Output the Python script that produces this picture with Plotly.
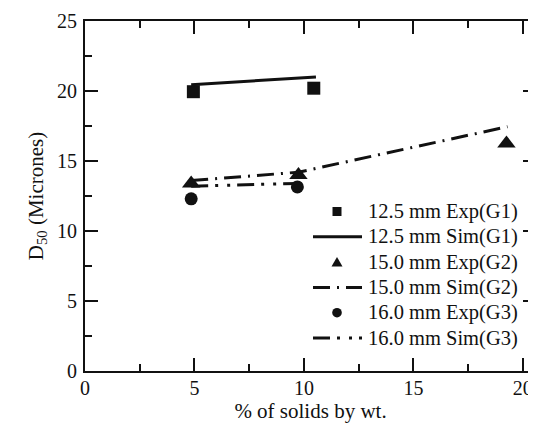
import plotly.graph_objects as go

# Data
g1_exp_x = [4.95, 10.45]
g1_exp_y = [19.95, 20.2]
g1_sim_x = [4.85, 10.55]
g1_sim_y = [20.45, 21.0]

g2_exp_x = [4.85, 9.75, 19.25]
g2_exp_y = [13.4, 14.0, 16.25]
g2_sim_x = [4.85, 9.75, 19.3]
g2_sim_y = [13.6, 14.2, 17.45]

g3_exp_x = [4.85, 9.7]
g3_exp_y = [12.3, 13.15]
g3_sim_x = [4.85, 9.75]
g3_sim_y = [13.2, 13.4]

names = ["12.5 mm Exp(G1)", "12.5 mm Sim(G1)", "15.0 mm Exp(G2)",
         "15.0 mm Sim(G2)", "16.0 mm Exp(G3)", "16.0 mm Sim(G3)"]

FONT = "Liberation Serif, Times New Roman, serif"
BLACK = "#111111"
DASH_G2 = "17px,7px,2px,7px"
DASH_G3 = "17px,7px,3px,9px,3px,7px"

# page is offset by the 8px body margin
W, H = 528, 424
ML, MR, MT, MB = 77, 0, 13, 61
PW = W - ML - MR
PH = H - MT - MB
OFF = 8


def px(page_x):
    return (page_x - OFF - ML) / PW


def py(page_y):
    return 1 - (page_y - OFF - MT) / PH


fig = go.Figure()

fig.add_trace(go.Scatter(x=g1_exp_x, y=g1_exp_y, mode="markers", name=names[0],
                         marker=dict(symbol="square", size=13, color=BLACK)))
fig.add_trace(go.Scatter(x=g1_sim_x, y=g1_sim_y, mode="lines", name=names[1],
                         line=dict(color=BLACK, width=3)))
fig.add_trace(go.Scatter(x=g2_sim_x, y=g2_sim_y, mode="lines", name=names[3],
                         line=dict(color=BLACK, width=3, dash=DASH_G2)))
fig.add_trace(go.Scatter(x=g3_sim_x, y=g3_sim_y, mode="lines", name=names[5],
                         line=dict(color=BLACK, width=3, dash=DASH_G3)))
fig.add_trace(go.Scatter(x=g2_exp_x, y=g2_exp_y, mode="markers", name=names[2],
                         marker=dict(symbol="triangle-up", size=16, color=BLACK)))
fig.add_trace(go.Scatter(x=g3_exp_x, y=g3_exp_y, mode="markers", name=names[4],
                         marker=dict(symbol="circle", size=13, color=BLACK)))

# Manual legend (positions in page pixels)
row_y0, row_dy = 211.5, 25.3
text_x = 366
sym_x = 337
line_x0, line_x1 = 313, 362
shapes = []
annotations = []
kinds = ["square", "solid", "triangle", DASH_G2, "circle", DASH_G3]
for i, (nm, kind) in enumerate(zip(names, kinds)):
    yc = row_y0 + row_dy * i
    annotations.append(dict(
        xref="paper", yref="paper", x=px(text_x), y=py(yc),
        xanchor="left", yanchor="middle", showarrow=False, text=nm,
        font=dict(family=FONT, size=20.5, color=BLACK)))
    if kind == "square":
        shapes.append(dict(type="rect", xref="paper", yref="paper",
                           x0=px(sym_x - 4.5), x1=px(sym_x + 4.5),
                           y0=py(yc + 4.5), y1=py(yc - 4.5),
                           fillcolor=BLACK, line=dict(width=0)))
    elif kind == "circle":
        shapes.append(dict(type="circle", xref="paper", yref="paper",
                           x0=px(sym_x - 4.8), x1=px(sym_x + 4.8),
                           y0=py(yc + 4.8), y1=py(yc - 4.8),
                           fillcolor=BLACK, line=dict(width=0)))
    elif kind == "triangle":
        x0, x1, xm = px(sym_x - 5.5), px(sym_x + 5.5), px(sym_x)
        yb, yt = py(yc + 4.5), py(yc - 5)
        shapes.append(dict(type="path", xref="paper", yref="paper",
                           path=f"M {x0} {yb} L {x1} {yb} L {xm} {yt} Z",
                           fillcolor=BLACK, line=dict(width=0)))
    else:
        shapes.append(dict(type="line", xref="paper", yref="paper",
                           x0=px(line_x0), x1=px(line_x1), y0=py(yc), y1=py(yc),
                           line=dict(color=BLACK, width=3,
                                     dash="solid" if kind == "solid" else kind)))

axis_common = dict(
    showgrid=False, zeroline=False,
    showline=True, linecolor=BLACK, linewidth=2,
    ticks="inside", ticklen=13, tickwidth=2, tickcolor=BLACK,
    mirror="allticks",
    tickfont=dict(family=FONT, size=20, color=BLACK),
    minor=dict(ticks="inside", ticklen=7, tickwidth=2, tickcolor=BLACK, dtick=2.5),
)

fig.update_layout(
    width=W, height=H,
    margin=dict(l=ML, r=MR, t=MT, b=MB, autoexpand=False),
    paper_bgcolor="white", plot_bgcolor="white",
    font=dict(family=FONT, color=BLACK),
    showlegend=False,
    xaxis=dict(range=[0, 20.6], dtick=5, tick0=0,
               title=dict(text="% of solids by wt.", font=dict(family=FONT, size=21, color=BLACK),
                          standoff=2),
               ticklabelstandoff=-2,
               **axis_common),
    yaxis=dict(range=[0, 25], dtick=5, tick0=0,
               title=dict(text="D<sub>50</sub> (Micrones)", font=dict(family=FONT, size=21, color=BLACK),
                          standoff=8),
               ticklabelstandoff=2,
               **axis_common),
    shapes=shapes,
    annotations=annotations,
)

fig.write_html("out.html")
